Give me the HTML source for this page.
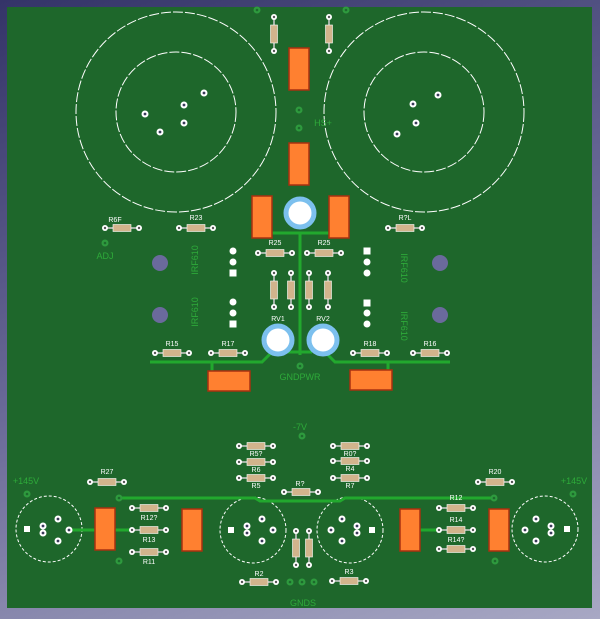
<!DOCTYPE html><html><head><style>body{margin:0;width:600px;height:619px;overflow:hidden;background:linear-gradient(160deg,#343468,#6a6a98 50%,#a8a8c4);}svg{display:block}</style></head><body>
<svg width="600" height="619" xmlns="http://www.w3.org/2000/svg" font-family="Liberation Sans, sans-serif">
<defs>
<g id="rh"><line x1="-17" y1="0" x2="17" y2="0" stroke="#cfcfcf" stroke-width="1.5"/><rect x="-9" y="-3.5" width="18" height="7" fill="#d2b48c" stroke="#fff" stroke-width=".6"/><circle cx="-17" r="3" fill="#fff"/><circle cx="-17" r="1.2" fill="#555"/><circle cx="17" r="3" fill="#fff"/><circle cx="17" r="1.2" fill="#555"/></g>
<g id="rv"><use href="#rh" transform="rotate(90)"/></g>
<g id="h"><circle r="3.5" fill="#fff"/><circle r="1.4" fill="#3a3a5a"/></g>
<g id="gp"><circle r="3.5" fill="#2e9a3e"/><circle r="1.3" fill="#1d6a2c"/></g>
</defs>
<rect x="7" y="7" width="585" height="601" fill="#1e672b"/>
<g fill="none" stroke="#fff" stroke-width="1" stroke-dasharray="10 2">
<circle cx="176" cy="112" r="100"/><circle cx="176" cy="112" r="60"/>
<circle cx="424" cy="112" r="100"/><circle cx="424" cy="112" r="60"/>
</g>
<g fill="none" stroke="#fff" stroke-width="1" stroke-dasharray="3 2">
<circle cx="49" cy="529" r="33"/><circle cx="253" cy="530" r="33"/><circle cx="350" cy="530" r="33"/><circle cx="545" cy="529" r="33"/>
</g>
<use href="#h" x="145" y="114"/><use href="#h" x="184" y="105"/><use href="#h" x="204" y="93"/><use href="#h" x="184" y="123"/><use href="#h" x="160" y="132"/>
<use href="#h" x="413" y="104"/><use href="#h" x="438" y="95"/><use href="#h" x="416" y="123"/><use href="#h" x="397" y="134"/>
<g stroke="#22a82e" stroke-width="3" fill="none">
<path d="M272 233H329M300 233V355M288 352H312"/>
<path d="M150 362H262L272 352M325 352L335 362H450"/>
<path d="M212 362V372M388 362V372"/>
<path d="M118 498H255L260 501H340L345 498H494"/>
<path d="M69 530H95M115 530H132M420 530H438"/>
</g>
<use href="#gp" x="257" y="10"/><use href="#gp" x="346" y="10"/><use href="#gp" x="299" y="110"/><use href="#gp" x="299" y="128"/>
<use href="#gp" x="105" y="243"/><use href="#gp" x="300" y="366"/><use href="#gp" x="302" y="436"/>
<use href="#gp" x="27" y="494"/><use href="#gp" x="573" y="494"/><use href="#gp" x="119" y="498"/><use href="#gp" x="494" y="498"/>
<use href="#gp" x="119" y="561"/><use href="#gp" x="495" y="561"/>
<use href="#gp" x="290" y="582"/><use href="#gp" x="302" y="582"/><use href="#gp" x="314" y="582"/>
<g fill="#ff8030" stroke="#a83010" stroke-width="1.5">
<rect x="289" y="48" width="20" height="42"/><rect x="289" y="143" width="20" height="42"/>
<rect x="252" y="196" width="20" height="42"/><rect x="329" y="196" width="20" height="42"/>
<rect x="208" y="371" width="42" height="20"/><rect x="350" y="370" width="42" height="20"/>
<rect x="95" y="508" width="20" height="42"/><rect x="182" y="509" width="20" height="42"/>
<rect x="400" y="509" width="20" height="42"/><rect x="489" y="509" width="20" height="42"/>
</g>
<g fill="#fff" stroke="#7cc0ee" stroke-width="5"><circle cx="300" cy="213" r="14"/><circle cx="278" cy="340" r="14"/><circle cx="323" cy="340" r="14"/></g>
<g fill="#6a6a9c"><circle cx="160" cy="263" r="8"/><circle cx="160" cy="315" r="8"/><circle cx="440" cy="263" r="8"/><circle cx="440" cy="315" r="8"/></g>
<g fill="#fff"><circle cx="233" cy="251" r="3.5"/><circle cx="233" cy="262" r="3.5"/><rect x="229.5" y="269.5" width="7" height="7"/>
<circle cx="233" cy="302" r="3.5"/><circle cx="233" cy="313" r="3.5"/><rect x="229.5" y="320.5" width="7" height="7"/>
<rect x="363.5" y="247.5" width="7" height="7"/><circle cx="367" cy="262" r="3.5"/><circle cx="367" cy="273" r="3.5"/>
<rect x="363.5" y="299.5" width="7" height="7"/><circle cx="367" cy="313" r="3.5"/><circle cx="367" cy="324" r="3.5"/>
<rect x="24" y="526" width="6" height="6"/><rect x="564" y="526" width="6" height="6"/><rect x="228" y="527" width="6" height="6"/><rect x="369" y="527" width="6" height="6"/></g>
<g><use href="#h" x="43" y="526"/><use href="#h" x="43" y="533"/><use href="#h" x="58" y="519"/><use href="#h" x="58" y="541"/><use href="#h" x="69" y="530"/>
<use href="#h" x="247" y="526"/><use href="#h" x="247" y="533"/><use href="#h" x="262" y="519"/><use href="#h" x="262" y="541"/><use href="#h" x="273" y="530"/>
<use href="#h" x="357" y="526"/><use href="#h" x="357" y="533"/><use href="#h" x="342" y="519"/><use href="#h" x="342" y="541"/><use href="#h" x="331" y="530"/>
<use href="#h" x="551" y="526"/><use href="#h" x="551" y="533"/><use href="#h" x="536" y="519"/><use href="#h" x="536" y="541"/><use href="#h" x="525" y="530"/></g>
<use href="#rv" x="274" y="34"/><use href="#rv" x="329" y="34"/>
<use href="#rh" x="122" y="228"/><use href="#rh" x="196" y="228"/><use href="#rh" x="405" y="228"/>
<use href="#rh" x="275" y="253"/><use href="#rh" x="324" y="253"/>
<use href="#rv" x="274" y="290"/><use href="#rv" x="291" y="290"/><use href="#rv" x="309" y="290"/><use href="#rv" x="328" y="290"/>
<use href="#rh" x="172" y="353"/><use href="#rh" x="228" y="353"/><use href="#rh" x="370" y="353"/><use href="#rh" x="430" y="353"/>
<use href="#rh" x="256" y="446"/><use href="#rh" x="256" y="462"/><use href="#rh" x="256" y="478"/>
<use href="#rh" x="350" y="446"/><use href="#rh" x="350" y="461"/><use href="#rh" x="350" y="478"/>
<use href="#rh" x="301" y="492"/><use href="#rh" x="107" y="482"/><use href="#rh" x="495" y="482"/>
<use href="#rh" x="149" y="508"/><use href="#rh" x="149" y="530"/><use href="#rh" x="149" y="552"/>
<use href="#rh" x="456" y="508"/><use href="#rh" x="456" y="530"/><use href="#rh" x="456" y="549"/>
<use href="#rv" x="296" y="548"/><use href="#rv" x="309" y="548"/>
<use href="#rh" x="259" y="582"/><use href="#rh" x="349" y="581"/>
<g fill="#fff" font-size="7" text-anchor="middle">
<text x="115" y="222">R6F</text><text x="196" y="220">R23</text><text x="405" y="220">R?L</text>
<text x="275" y="245">R25</text><text x="324" y="245">R25</text>
<text x="172" y="346">R15</text><text x="228" y="346">R17</text><text x="370" y="346">R18</text><text x="430" y="346">R16</text>
<text x="256" y="456">R5?</text><text x="256" y="472">R6</text><text x="256" y="488">R5</text>
<text x="350" y="456">R0?</text><text x="350" y="471">R4</text><text x="350" y="488">R7</text>
<text x="300" y="486">R?</text><text x="107" y="474">R27</text><text x="495" y="474">R20</text>
<text x="149" y="520">R12?</text><text x="149" y="542">R13</text><text x="149" y="564">R11</text>
<text x="456" y="500">R12</text><text x="456" y="522">R14</text><text x="456" y="542">R14?</text>
<text x="259" y="576">R2</text><text x="349" y="574">R3</text>
<text x="278" y="321">RV1</text><text x="323" y="321">RV2</text>
</g>
<g fill="#2eaa3a" font-size="9" text-anchor="middle">
<text x="105" y="259">ADJ</text><text x="323" y="126">HS+</text><text x="300" y="380">GNDPWR</text>
<text x="300" y="430">-7V</text><text x="26" y="484">+145V</text><text x="574" y="484">+145V</text><text x="303" y="606">GNDS</text>
<text transform="translate(198,260) rotate(-90)">IRF610</text><text transform="translate(198,312) rotate(-90)">IRF610</text>
<text transform="translate(401,268) rotate(90)">IRF610</text><text transform="translate(401,326) rotate(90)">IRF610</text>
</g>
</svg></body></html>
